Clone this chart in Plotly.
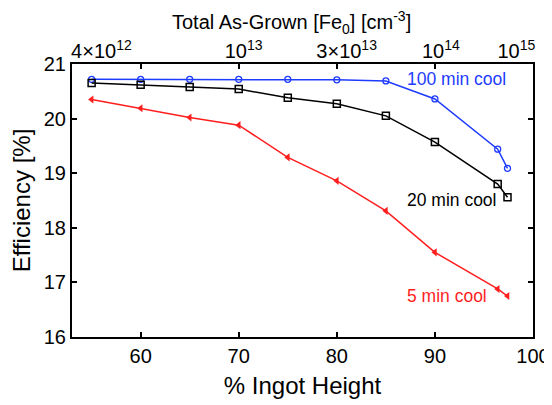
import plotly.graph_objects as go

ingot_height = [55, 60, 65, 70, 75, 80, 85, 90, 96.4, 97.4]
eff_100min = [20.72, 20.72, 20.72, 20.72, 20.72, 20.71, 20.69, 20.36, 19.44, 19.09]
eff_20min = [20.65, 20.62, 20.58, 20.54, 20.38, 20.27, 20.05, 19.57, 18.80, 18.56]
eff_5min = [20.35, 20.19, 20.02, 19.88, 19.29, 18.86, 18.31, 17.55, 16.88, 16.75]

top_tick_pos = [56.0, 70.5, 81.0, 90.6, 98.3]
top_tick_text = ["4×10<sup>12</sup>", "10<sup>13</sup>", "3×10<sup>13</sup>",
                 "10<sup>14</sup>", "10<sup>15</sup>"]

series_labels = ["100 min cool", "20 min cool", "5 min cool"]

BLUE = "rgb(30,60,255)"
RED = "rgb(255,30,30)"
FONT = "Liberation Sans, Arial, sans-serif"

fig = go.Figure()
fig.add_trace(go.Scatter(x=ingot_height, y=eff_100min, mode="lines+markers",
                         line=dict(color=BLUE, width=1.5),
                         marker=dict(symbol="circle-open", size=6, color=BLUE, line=dict(width=1.3)),
                         name=series_labels[0]))
fig.add_trace(go.Scatter(x=ingot_height, y=eff_20min, mode="lines+markers",
                         line=dict(color="black", width=1.5),
                         marker=dict(symbol="square-open", size=7, color="black", line=dict(width=1.5)),
                         name=series_labels[1]))
fig.add_trace(go.Scatter(x=ingot_height, y=eff_5min, mode="lines+markers",
                         line=dict(color=RED, width=1.5),
                         marker=dict(symbol="triangle-left", size=7, color=RED),
                         name=series_labels[2]))
# invisible trace for top axis
fig.add_trace(go.Scatter(x=[53, 100], y=[16, 16], xaxis="x2", mode="markers",
                         marker=dict(opacity=0), hoverinfo="skip", showlegend=False))

# the page body has an 8px margin, so the figure is 8px smaller and margins shifted
fig.update_layout(
    width=544, height=397,
    margin=dict(l=64, r=19, t=56, b=68),
    plot_bgcolor="white", paper_bgcolor="white",
    showlegend=False,
    font=dict(family=FONT, color="black", size=20),
    xaxis=dict(range=[53, 100], tickvals=[60, 70, 80, 90, 100],
               ticks="inside", ticklen=5, tickwidth=2, tickcolor="black",
               showline=True, linecolor="black", linewidth=2, mirror="ticks",
               showgrid=False, zeroline=False, automargin=False,
               tickfont=dict(size=20),
               title=dict(text="% Ingot Height", font=dict(size=24), standoff=11)),
    xaxis2=dict(range=[53, 100], overlaying="x", side="top",
                tickvals=top_tick_pos, ticktext=top_tick_text, ticks="",
                ticklabelstandoff=1, automargin=False,
                showgrid=False, zeroline=False, showline=False,
                tickfont=dict(size=20)),
    yaxis=dict(range=[16, 21], tickvals=[16, 17, 18, 19, 20, 21],
               ticks="inside", ticklen=5, tickwidth=2, tickcolor="black",
               showline=True, linecolor="black", linewidth=2, mirror="ticks",
               showgrid=False, zeroline=False, automargin=False,
               tickfont=dict(size=20),
               title=dict(text="Efficiency [%]", font=dict(size=24), standoff=6)),
)

# top axis title
fig.add_annotation(x=0.477, y=1.152, xref="paper", yref="paper",
                   text="Total As-Grown [Fe<sub>0</sub>] [cm<sup>-3</sup>]",
                   showarrow=False, xanchor="center", yanchor="middle",
                   font=dict(size=20, color="black"))

fig.add_annotation(x=86.9, y=20.72, text=series_labels[0], showarrow=False,
                   xanchor="left", yanchor="middle", font=dict(size=17.5, color=BLUE))
fig.add_annotation(x=86.9, y=18.51, text=series_labels[1], showarrow=False,
                   xanchor="left", yanchor="middle", font=dict(size=17.5, color="black"))
fig.add_annotation(x=86.9, y=16.75, text=series_labels[2], showarrow=False,
                   xanchor="left", yanchor="middle", font=dict(size=17.5, color=RED))

fig.write_html("out.html")
